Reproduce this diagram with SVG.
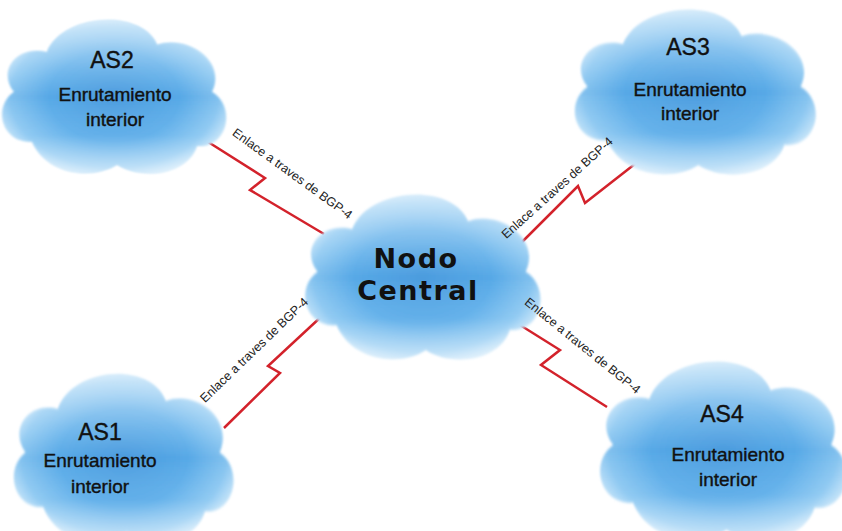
<svg xmlns="http://www.w3.org/2000/svg" width="842" height="531" viewBox="0 0 842 531">
<defs>
  <radialGradient id="cloudFill" cx="0.5" cy="0.5" r="0.58">
    <stop offset="0" stop-color="#4f9fe0"/>
    <stop offset="0.5" stop-color="#5cade9"/>
    <stop offset="0.8" stop-color="#8cc8f2"/>
    <stop offset="1" stop-color="#dff1fc"/>
  </radialGradient>
  <linearGradient id="cloudShine" x1="0" y1="0" x2="0" y2="1">
    <stop offset="0" stop-color="#ffffff" stop-opacity="0.55"/>
    <stop offset="0.35" stop-color="#ffffff" stop-opacity="0.12"/>
    <stop offset="0.5" stop-color="#2f86d0" stop-opacity="0.12"/>
    <stop offset="0.75" stop-color="#ffffff" stop-opacity="0.05"/>
    <stop offset="1" stop-color="#ffffff" stop-opacity="0.5"/>
  </linearGradient>
  <filter id="soft" x="-5%" y="-5%" width="110%" height="110%">
    <feGaussianBlur stdDeviation="1.2"/>
  </filter>
  <path id="cloud" d="M40,128 C10,130 0,95 22,80 C5,60 25,35 55,42 C70,5 150,0 165,35 C195,25 235,50 220,80 C245,95 235,135 205,132 C195,160 150,165 125,150 C100,165 55,160 40,128 Z"/>
  <g id="cloudShape">
    <use href="#cloud" fill="url(#cloudFill)" filter="url(#soft)"/>
    <use href="#cloud" fill="url(#cloudShine)" filter="url(#soft)"/>
  </g>
</defs>
<style>
  .link { fill: none; stroke: #d3222b; stroke-width: 2.5; stroke-linejoin: miter; }
  .lbl { font-family: "Liberation Sans", Arial, sans-serif; font-size: 12.5px; fill: #222; text-anchor: middle; }
  .as { font-family: "Liberation Sans", Arial, sans-serif; font-size: 23px; fill: #111; stroke: #111; stroke-width: 0.4; text-anchor: middle; }
  .sub { font-family: "Liberation Sans", Arial, sans-serif; font-size: 19px; fill: #111; stroke: #111; stroke-width: 0.4; text-anchor: middle; }
  .center { font-family: "DejaVu Sans", Verdana, sans-serif; font-size: 27px; font-weight: bold; fill: #111; text-anchor: middle; letter-spacing: 1.5px; }
</style>
<rect width="842" height="531" fill="#ffffff"/>
<g id="connectors">
  <polyline class="link" points="205,140 265,178 250,190 324,234"/>
  <polyline class="link" points="519,245 578,186 585,203 640,160"/>
  <polyline class="link" points="224,428 280,373 268,366 323,315"/>
  <polyline class="link" points="512,320 560,350 541,365 607,407"/>
</g>
<g id="node-as2">
  <use href="#cloudShape" transform="translate(-8,8.6) scale(1.0,1.04)"/>
  <text class="as" x="112" y="68">AS2</text>
  <text class="sub" x="115" y="101">Enrutamiento</text>
  <text class="sub" x="115" y="126">interior</text>
</g>
<g id="node-as3">
  <use href="#cloudShape" transform="translate(564,-2) scale(1.075,1.11)"/>
  <text class="as" x="688" y="55">AS3</text>
  <text class="sub" x="690" y="96">Enrutamiento</text>
  <text class="sub" x="690" y="120">interior</text>
</g>
<g id="node-central">
  <use href="#cloudShape" transform="translate(294.6,183) scale(1.05,1.11)"/>
  <text class="center" x="416" y="268">Nodo</text>
  <text class="center" x="418" y="300">Central</text>
</g>
<g id="node-as1">
  <use href="#cloudShape" transform="translate(4,362) scale(0.98,1.13)"/>
  <text class="as" x="100" y="440">AS1</text>
  <text class="sub" x="100" y="467">Enrutamiento</text>
  <text class="sub" x="100" y="493">interior</text>
</g>
<g id="node-as4">
  <use href="#cloudShape" transform="translate(589,349) scale(1.1,1.2)"/>
  <text class="as" x="722" y="422">AS4</text>
  <text class="sub" x="728" y="461">Enrutamiento</text>
  <text class="sub" x="728" y="486">interior</text>
</g>
<g id="connector-labels">
  <text class="lbl" transform="translate(290,177) rotate(36)">Enlace a traves de BGP-4</text>
  <text class="lbl" transform="translate(560,191) rotate(-42)">Enlace a traves de BGP-4</text>
  <text class="lbl" transform="translate(257,353) rotate(-44)">Enlace a traves de BGP-4</text>
  <text class="lbl" transform="translate(580,349) rotate(39)">Enlace a traves de BGP-4</text>
</g>
</svg>
